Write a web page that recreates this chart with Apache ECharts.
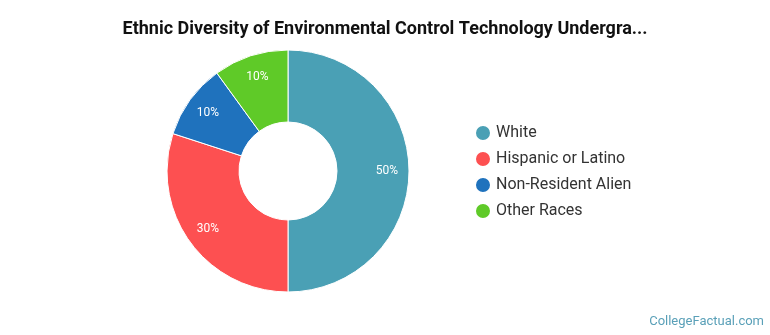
<!DOCTYPE html>
<html>
<head>
<meta charset="utf-8">
<script src="https://cdn.jsdelivr.net/npm/echarts@6/dist/echarts.min.js"></script>
<style>
  html, body { margin: 0; padding: 0; background: #fff; }
  #main { width: 770px; height: 335px; }
</style>
</head>
<body>
<div id="main"></div>
<script>
// data
const groups = ["White", "Hispanic or Latino", "Non-Resident Alien", "Other Races"];
const shares = [50, 30, 10, 10];
const colours = ["#4aa0b5", "#fd5051", "#1f72bd", "#5fca28"];

let myChart = echarts.init(document.getElementById("main"));

let pieData = groups.map((g, i) => ({ name: g, value: shares[i] }));

let option = {
  animation: false,
  color: colours,
  title: {
    text: "Ethnic Diversity of Environmental Control Technology Undergra...",
    left: "center",
    top: 15,
    textStyle: {
      fontFamily: "Roboto",
      fontSize: 18,
      fontWeight: "bold",
      color: "#111"
    }
  },
  legend: {
    orient: "vertical",
    left: 469,
    top: 119,
    icon: "circle",
    itemWidth: 16,
    itemHeight: 16,
    itemGap: 8,
    data: groups,
    textStyle: {
      fontFamily: "Roboto",
      fontSize: 16,
      color: "#333"
    }
  },
  graphic: [
    {
      type: "text",
      right: 6,
      top: 315,
      style: {
        text: "CollegeFactual.com",
        fontFamily: "Roboto",
        fontSize: 13,
        fill: "#5aa0b8"
      }
    }
  ],
  series: [
    {
      // the ring itself
      name: "Ethnic Diversity",
      type: "pie",
      center: [288, 171],
      radius: [49, 121],
      startAngle: 90,
      clockwise: true,
      data: pieData,
      label: { show: false },
      labelLine: { show: false },
      itemStyle: { borderColor: "#fff", borderWidth: 1 },
      emphasis: { scale: false }
    },
    {
      // transparent copy, only to put the % labels a bit further out
      name: "labels",
      type: "pie",
      center: [288, 171],
      radius: [71, 121],
      startAngle: 90,
      silent: true,
      legendHoverLink: false,
      data: pieData,
      itemStyle: { color: "rgba(0,0,0,0)" },
      label: {
        show: true,
        position: "inside",
        formatter: "{c}%",
        fontFamily: "Roboto",
        fontSize: 12,
        color: "#fff"
      },
      labelLine: { show: false }
    }
  ]
};

myChart.setOption(option);
</script>
</body>
</html>
